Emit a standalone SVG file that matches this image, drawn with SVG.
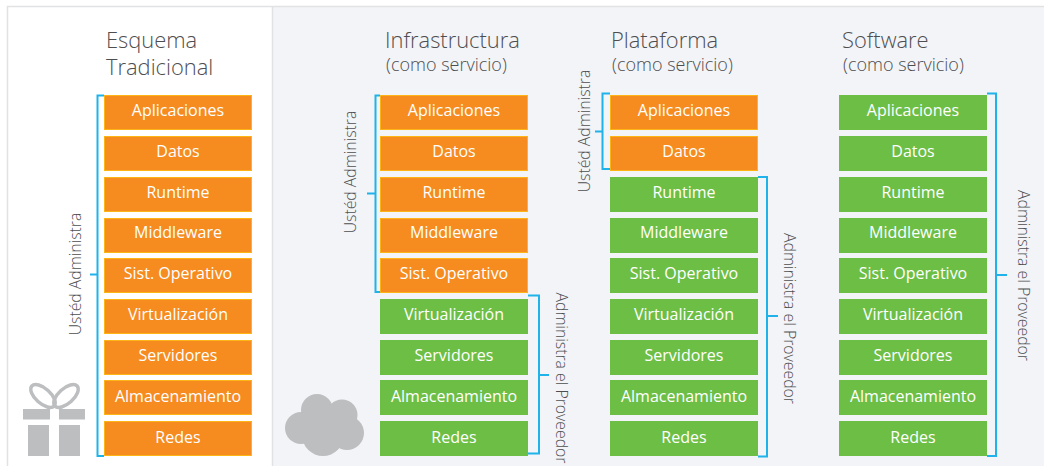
<svg xmlns="http://www.w3.org/2000/svg" width="1044" height="466" viewBox="0 0 1044 466">
<style>
text{font-family:"Open Sans","Noto Sans","Liberation Sans",sans-serif}
.o rect{fill:#f68b1f;stroke:#fdb515;stroke-width:1}
.g rect{fill:#6dbe45}
.b text{fill:#fff;font-size:16px;text-anchor:middle}
.h{fill:#4d4e50;font-size:21.900px;font-weight:300}
.s{fill:#4d4e50;font-size:18px;font-weight:300}
.v{fill:#4d4e50;font-size:15.800px;font-weight:300;text-anchor:middle}
.c{fill:none;stroke:#1fb3ea;stroke-width:2}
.i{fill:#bcbec0}
</style>
<rect width="1044" height="466" fill="#fff"/>
<rect x="272" y="6" width="772" height="460" fill="#f3f4f7"/>
<path d="M7.500 466V6.500H1044M272.500 6V466" fill="none" stroke="#e1e2e4" stroke-width="1.500"/>
<g id="connectors" class="c">
<path d="M104 95.500H97.500V456H104M97.500 274.500H90"/>
<path d="M380 95.500H375.500V292H380M375.500 193.500H367"/>
<path d="M528 295.500H539V453.500H528M539 375H549"/>
<path d="M610 93.500H602.500V169H610M602.500 131.500H595"/>
<path d="M758 177H767V456.500H758M767 316H778"/>
<path d="M987 93.500H996V456H987M996 275H1007"/>
</g>
<g id="col1-title"><text class="h" x="106" y="48">Esquema</text><text class="h" x="106" y="75">Tradicional</text></g>
<g id="col2-title"><text class="h" x="385" y="48">Infrastructura</text><text class="s" x="386" y="71">(como servicio)</text></g>
<g id="col3-title"><text class="h" x="611" y="48">Plataforma</text><text class="s" x="612" y="71">(como servicio)</text></g>
<g id="col4-title"><text class="h" x="842" y="48">Software</text><text class="s" x="843" y="71">(como servicio)</text></g>
<g id="col1" class="b o">
<g id="c1-aplicaciones"><rect x="104.500" y="95.500" width="147" height="34"/><text x="178" y="116">Aplicaciones</text></g>
<g id="c1-datos"><rect x="104.500" y="136.500" width="147" height="34"/><text x="178" y="157">Datos</text></g>
<g id="c1-runtime"><rect x="104.500" y="177.500" width="147" height="34"/><text x="178" y="198">Runtime</text></g>
<g id="c1-middleware"><rect x="104.500" y="218.500" width="147" height="34"/><text x="178" y="238">Middleware</text></g>
<g id="c1-so"><rect x="104.500" y="258.500" width="147" height="34"/><text x="178" y="279">Sist. Operativo</text></g>
<g id="c1-virt"><rect x="104.500" y="299.500" width="147" height="34"/><text x="178" y="320">Virtualización</text></g>
<g id="c1-serv"><rect x="104.500" y="340.500" width="147" height="34"/><text x="178" y="361">Servidores</text></g>
<g id="c1-alm"><rect x="104.500" y="380.500" width="147" height="34"/><text x="178" y="402">Almacenamiento</text></g>
<g id="c1-redes"><rect x="104.500" y="421.500" width="147" height="34"/><text x="178" y="443">Redes</text></g>
</g>
<g id="col2o" class="b o">
<g id="c2-aplicaciones"><rect x="380.500" y="95.500" width="147" height="34"/><text x="454" y="116">Aplicaciones</text></g>
<g id="c2-datos"><rect x="380.500" y="136.500" width="147" height="34"/><text x="454" y="157">Datos</text></g>
<g id="c2-runtime"><rect x="380.500" y="177.500" width="147" height="34"/><text x="454" y="198">Runtime</text></g>
<g id="c2-middleware"><rect x="380.500" y="218.500" width="147" height="34"/><text x="454" y="238">Middleware</text></g>
<g id="c2-so"><rect x="380.500" y="258.500" width="147" height="34"/><text x="454" y="279">Sist. Operativo</text></g>
</g>
<g id="col2g" class="b g">
<g id="c2-virt"><rect x="380" y="299" width="148" height="35"/><text x="454" y="320">Virtualización</text></g>
<g id="c2-serv"><rect x="380" y="340" width="148" height="35"/><text x="454" y="361">Servidores</text></g>
<g id="c2-alm"><rect x="380" y="380" width="148" height="35"/><text x="454" y="402">Almacenamiento</text></g>
<g id="c2-redes"><rect x="380" y="421" width="148" height="35"/><text x="454" y="443">Redes</text></g>
</g>
<g id="col3o" class="b o">
<g id="c3-aplicaciones"><rect x="610.500" y="95.500" width="147" height="34"/><text x="684" y="116">Aplicaciones</text></g>
<g id="c3-datos"><rect x="610.500" y="136.500" width="147" height="34"/><text x="684" y="157">Datos</text></g>
</g>
<g id="col3g" class="b g">
<g id="c3-runtime"><rect x="610" y="177" width="148" height="35"/><text x="684" y="198">Runtime</text></g>
<g id="c3-middleware"><rect x="610" y="218" width="148" height="35"/><text x="684" y="238">Middleware</text></g>
<g id="c3-so"><rect x="610" y="258" width="148" height="35"/><text x="684" y="279">Sist. Operativo</text></g>
<g id="c3-virt"><rect x="610" y="299" width="148" height="35"/><text x="684" y="320">Virtualización</text></g>
<g id="c3-serv"><rect x="610" y="340" width="148" height="35"/><text x="684" y="361">Servidores</text></g>
<g id="c3-alm"><rect x="610" y="380" width="148" height="35"/><text x="684" y="402">Almacenamiento</text></g>
<g id="c3-redes"><rect x="610" y="421" width="148" height="35"/><text x="684" y="443">Redes</text></g>
</g>
<g id="col4" class="b g">
<g id="c4-aplicaciones"><rect x="839" y="95" width="148" height="35"/><text x="913" y="116">Aplicaciones</text></g>
<g id="c4-datos"><rect x="839" y="136" width="148" height="35"/><text x="913" y="157">Datos</text></g>
<g id="c4-runtime"><rect x="839" y="177" width="148" height="35"/><text x="913" y="198">Runtime</text></g>
<g id="c4-middleware"><rect x="839" y="218" width="148" height="35"/><text x="913" y="238">Middleware</text></g>
<g id="c4-so"><rect x="839" y="258" width="148" height="35"/><text x="913" y="279">Sist. Operativo</text></g>
<g id="c4-virt"><rect x="839" y="299" width="148" height="35"/><text x="913" y="320">Virtualización</text></g>
<g id="c4-serv"><rect x="839" y="340" width="148" height="35"/><text x="913" y="361">Servidores</text></g>
<g id="c4-alm"><rect x="839" y="380" width="148" height="35"/><text x="913" y="402">Almacenamiento</text></g>
<g id="c4-redes"><rect x="839" y="421" width="148" height="35"/><text x="913" y="443">Redes</text></g>
</g>
<g id="labels">
<text class="v" transform="translate(81 274) rotate(-90)">Ustéd Administra</text>
<text class="v" transform="translate(356 172) rotate(-90)">Ustéd Administra</text>
<text class="v" transform="translate(590 131) rotate(-90)">Ustéd Administra</text>
<text class="v" transform="translate(556 378) rotate(90)">Administra el Proveedor</text>
<text class="v" transform="translate(784 318.500) rotate(90)">Administra el Proveedor</text>
<text class="v" transform="translate(1018 275.500) rotate(90)">Administra el Proveedor</text>
</g>
<g id="gift" class="i">
<rect x="23" y="409" width="27" height="10.500"/><rect x="59" y="409" width="26" height="10.500"/>
<rect x="28" y="425" width="21" height="31"/><rect x="59" y="425" width="21" height="31"/>
<ellipse cx="43" cy="396" rx="15" ry="7.500" transform="rotate(42 43 396)" fill="none" stroke="#bcbec0" stroke-width="3.500"/>
<ellipse cx="66" cy="396" rx="15" ry="7.500" transform="rotate(-42 66 396)" fill="none" stroke="#bcbec0" stroke-width="3.500"/>
</g>
<g id="cloud" class="i">
<circle cx="317" cy="410" r="16"/><circle cx="342" cy="415" r="15.500"/><circle cx="347" cy="433" r="17"/><circle cx="301" cy="428" r="16"/><circle cx="323" cy="435" r="21"/><circle cx="325" cy="424" r="20"/>
</g>
</svg>
